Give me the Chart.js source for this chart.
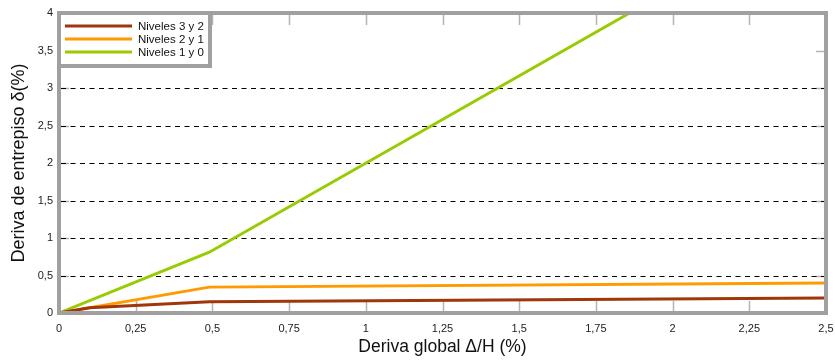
<!DOCTYPE html>
<html>
<head>
<meta charset="utf-8">
<script src="https://cdn.jsdelivr.net/npm/chart.js@4.4.1/dist/chart.umd.min.js"></script>
<style>
  html, body { margin: 0; padding: 0; background: #ffffff; }
  #wrap { width: 835px; height: 360px; position: relative; }
</style>
</head>
<body>
<div id="wrap"><canvas id="c" width="835" height="360"></canvas></div>
<script>
// Global drift (x) vs. interstory drift (y) for each pair of levels
const seriesNames = ['Niveles 3 y 2', 'Niveles 2 y 1', 'Niveles 1 y 0'];
const seriesColors = ['#a0360c', '#ff9a00', '#99cc00'];

const level32X = [0, 0.1, 0.49, 2.5];
const level32Y = [0, 0.07, 0.15, 0.2];

const level21X = [0, 0.49, 2.5];
const level21Y = [0, 0.345, 0.4];

const level10X = [0, 0.49, 1.86];
const level10Y = [0, 0.81, 4.0];

const xTicks = [0, 0.25, 0.5, 0.75, 1, 1.25, 1.5, 1.75, 2, 2.25, 2.5];
const yTicks = [0, 0.5, 1, 1.5, 2, 2.5, 3, 3.5, 4];
const dashedGridValues = [0.5, 1, 1.5, 2, 2.5, 3];

const FONT = '"Liberation Sans", Arial, sans-serif';
const FRAME = '#a0a0a0';
const TICKMARK = '#b4b4b4';

function toPoints(xs, ys) { return xs.map((x, i) => ({ x: x, y: ys[i] })); }
function comma(v) { return String(Math.round(v * 100) / 100).replace('.', ','); }

const allX = [level32X, level21X, level10X];
const allY = [level32Y, level21Y, level10Y];

const datasets = seriesNames.map((name, i) => ({
  label: name,
  data: toPoints(allX[i], allY[i]),
  borderColor: seriesColors[i],
  backgroundColor: seriesColors[i],
  borderWidth: 3,
  pointRadius: 0,
  tension: 0,
  fill: false
}));

// Draws the dashed grid, inner tick marks, the heavy frame and the boxed legend
const framePlugin = {
  id: 'frame',
  beforeDatasetsDraw(chart) {
    const { ctx, chartArea: a, scales: { x, y } } = chart;
    ctx.save();
    // inner tick marks
    ctx.strokeStyle = TICKMARK;
    ctx.lineWidth = 1.5;
    ctx.setLineDash([]);
    xTicks.forEach(v => {
      const px = Math.round(x.getPixelForValue(v)) + 0.5;
      ctx.beginPath();
      ctx.moveTo(px, a.bottom); ctx.lineTo(px, a.bottom - 12);
      ctx.moveTo(px, a.top); ctx.lineTo(px, a.top + 12);
      ctx.stroke();
    });
    yTicks.forEach(v => {
      const py = Math.round(y.getPixelForValue(v)) + 0.5;
      ctx.beginPath();
      ctx.moveTo(a.left, py); ctx.lineTo(a.left + 10, py);
      ctx.moveTo(a.right, py); ctx.lineTo(a.right - 10, py);
      ctx.stroke();
    });
    // dashed horizontal grid
    ctx.strokeStyle = '#000000';
    ctx.lineWidth = 1;
    ctx.setLineDash([5, 4.5]);
    dashedGridValues.forEach(v => {
      const py = Math.round(y.getPixelForValue(v)) + 0.5;
      ctx.beginPath();
      ctx.moveTo(a.left + 2, py); ctx.lineTo(a.right - 2, py);
      ctx.stroke();
    });
    ctx.restore();
  },
  afterDatasetsDraw(chart) {
    const { ctx, chartArea: a } = chart;
    ctx.save();
    ctx.setLineDash([]);
    // frame
    ctx.strokeStyle = FRAME;
    ctx.lineWidth = 4;
    ctx.strokeRect(a.left, a.top, a.right - a.left, a.bottom - a.top);
    // legend box
    const bx = a.left, by = a.top, bw = 151, bh = 53;
    ctx.fillStyle = '#ffffff';
    ctx.fillRect(bx, by, bw, bh);
    ctx.strokeRect(bx, by, bw, bh);
    ctx.font = '11.5px ' + FONT;
    ctx.textBaseline = 'middle';
    ctx.textAlign = 'left';
    chart.data.datasets.forEach((ds, i) => {
      const ly = by + 13 + i * 13;
      ctx.strokeStyle = ds.borderColor;
      ctx.lineWidth = 3;
      ctx.beginPath();
      ctx.moveTo(bx + 6, ly); ctx.lineTo(bx + 73, ly);
      ctx.stroke();
      ctx.fillStyle = '#111111';
      ctx.fillText(ds.label, bx + 79, ly + 0.5);
    });
    ctx.restore();
  }
};

new Chart(document.getElementById('c'), {
  type: 'line',
  data: { datasets: datasets },
  options: {
    responsive: false,
    animation: false,
    devicePixelRatio: 1,
    layout: { padding: { left: 0, right: 9, top: 13, bottom: 0 } },
    plugins: { legend: { display: false }, tooltip: { enabled: false } },
    scales: {
      x: {
        type: 'linear',
        min: 0, max: 2.5,
        afterBuildTicks(scale) { scale.ticks = xTicks.map(v => ({ value: v })); },
        afterFit(scale) {
          scale.height = 47;
          scale.paddingLeft = 0;
          scale.paddingRight = 0;
        },
        grid: { display: false, drawTicks: false },
        border: { display: false },
        ticks: {
          padding: 9,
          color: '#222222',
          font: { family: FONT, size: 11 },
          maxRotation: 0,
          autoSkip: false,
          callback: v => comma(v)
        },
        title: {
          display: true,
          text: 'Deriva global \u0394/H (%)',
          color: '#111111',
          font: { family: FONT, size: 17.5 },
          padding: { top: 0, bottom: 2 }
        }
      },
      y: {
        type: 'linear',
        min: 0, max: 4,
        afterBuildTicks(scale) { scale.ticks = yTicks.map(v => ({ value: v })); },
        afterFit(scale) {
          scale.width = 59;
          scale.paddingTop = 0;
          scale.paddingBottom = 0;
        },
        grid: { display: false, drawTicks: false },
        border: { display: false },
        ticks: {
          padding: 6,
          color: '#222222',
          font: { family: FONT, size: 11 },
          autoSkip: false,
          callback: v => comma(v)
        },
        title: {
          display: true,
          text: 'Deriva de entrepiso \u03b4(%)',
          color: '#111111',
          font: { family: FONT, size: 18 },
          padding: { top: 8, bottom: 0 }
        }
      }
    }
  },
  plugins: [framePlugin]
});
</script>
</body>
</html>
